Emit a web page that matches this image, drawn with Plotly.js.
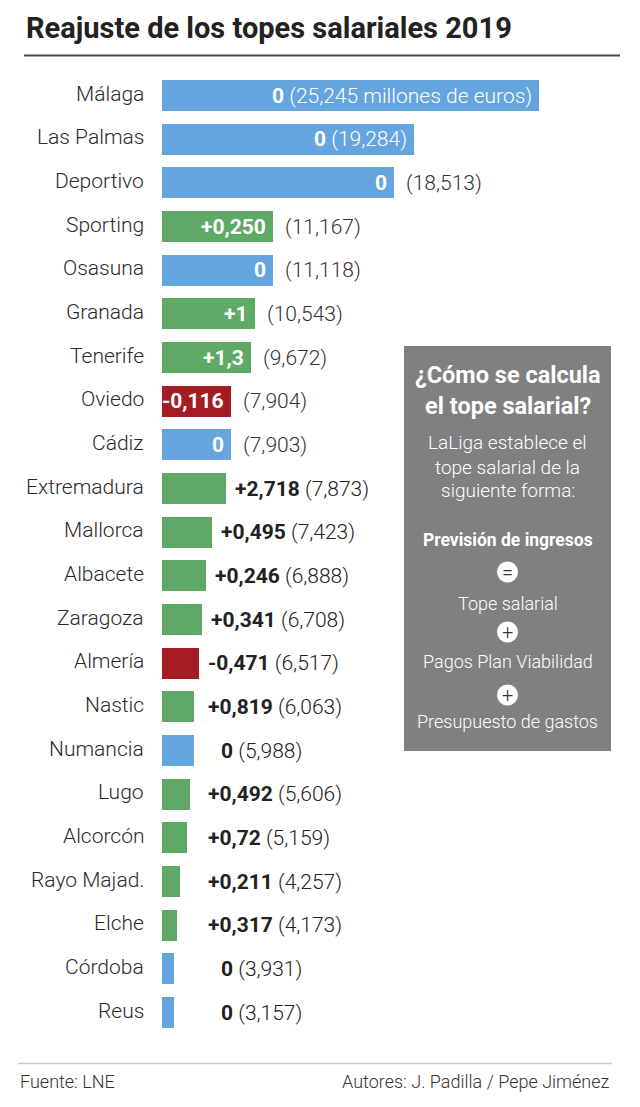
<!DOCTYPE html>
<html>
<head>
<meta charset="utf-8">
<script src="https://cdn.plot.ly/plotly-3.0.1.min.js"></script>
<style>
html,body{margin:0;padding:0;background:#fff;}
#chart{width:640px;height:1107px;}
</style>
</head>
<body>
<div id="chart"></div>
<script>
// ---- Data ----
const teams = ["Málaga","Las Palmas","Deportivo","Sporting","Osasuna","Granada","Tenerife","Oviedo","Cádiz","Extremadura","Mallorca","Albacete","Zaragoza","Almería","Nastic","Numancia","Lugo","Alcorcón","Rayo Majad.","Elche","Córdoba","Reus"];
const adjustLabels = ["0","0","0","+0,250","0","+1","+1,3","-0,116","0","+2,718","+0,495","+0,246","+0,341","-0,471","+0,819","0","+0,492","+0,72","+0,211","+0,317","0","0"];
const totals = [25.245,19.284,18.513,11.167,11.118,10.543,9.672,7.904,7.903,7.873,7.423,6.888,6.708,6.517,6.063,5.988,5.606,5.159,4.257,4.173,3.931,3.157];
// drawn bar length as it appears in the reference (millions of euros, scaled to Málaga's bar)
const barLength = [25.245,16.87,15.53,7.43,7.43,6.23,5.96,4.62,4.62,4.29,3.35,2.95,2.68,2.48,2.14,2.14,1.87,1.67,1.21,1.00,0.80,0.80];

const title = "Reajuste de los topes salariales 2019";
const boxTitle = ["¿Cómo se calcula","el tope salarial?"];
const boxBody = ["LaLiga establece el","tope salarial de la","siguiente forma:"];
const formulaTerms = ["Previsión de ingresos","Tope salarial","Pagos Plan Viabilidad","Presupuesto de gastos"];
const formulaOps = ["=","+","+"];
const source = "Fuente: LNE";
const authors = "Autores: J. Padilla / Pepe Jiménez";

// ---- Layout helpers ----
const W = 640, H = 1107;
const X0 = 162.3;                 // pixel where bars start
const pxPerUnit = 377 / 25.245;   // horizontal scale
const rowTop = 95.5, rowStep = 43.667;
const P = px => px / W;
const Q = py => 1 - py / H;
const fmt = v => v.toFixed(3).replace(".", ",");
const FONT = "Roboto, 'Open Sans', sans-serif";
const BLUE = "#64a5dd", GREEN = "#5fa967", RED = "#a51c24";

const colors = adjustLabels.map(s => s.startsWith("+") ? GREEN : (s.startsWith("-") ? RED : BLUE));
const idx = teams.map((_, i) => i);

const trace = {
  type: "bar", orientation: "h",
  y: idx, x: barLength,
  width: 0.71,
  marker: {color: colors, line: {width: 0}},
  hoverinfo: "skip"
};

const ann = [];
// title
ann.push({xref:"paper", yref:"paper", x:P(24), y:Q(28), xanchor:"left", yanchor:"middle",
  text:"<b>"+title+"</b>", showarrow:false, font:{family:FONT, size:29, color:"#222"}});

teams.forEach((t, i) => {
  ann.push({xref:"paper", yref:"y", x:P(146), y:i, yshift:2, xanchor:"right", yanchor:"middle",
    text:t, showarrow:false, font:{family:FONT, size:21, color:"#2a2a2a", weight:300}});
  const L = barLength[i];
  const adj = "<b>"+adjustLabels[i]+"</b>";
  const tot = "("+fmt(totals[i])+(i === 0 ? " millones de euros" : "")+")";
  if (L > 16) {
    ann.push({xref:"x", yref:"y", x:L, xshift:-5, y:i, xanchor:"right", yanchor:"middle",
      text:adj+" "+tot, showarrow:false, font:{family:FONT, size:21, color:"#fff", weight:300}});
  } else if (L > 4.5) {
    ann.push({xref:"x", yref:"y", x:L, xshift:-5, y:i, xanchor:"right", yanchor:"middle",
      text:adj, showarrow:false, font:{family:FONT, size:21, color:"#fff", weight:300}});
    ann.push({xref:"x", yref:"y", x:L, xshift:10, y:i, xanchor:"left", yanchor:"middle",
      text:tot, showarrow:false, font:{family:FONT, size:21, color:"#333", weight:300}});
  } else {
    const endPx = X0 + L * pxPerUnit;
    let startPx = Math.max(endPx + 7, 206);
    if (adjustLabels[i] === "0") startPx = 219;
    ann.push({xref:"paper", yref:"y", x:P(startPx), y:i, xanchor:"left", yanchor:"middle",
      text:adj+" "+tot, showarrow:false, font:{family:FONT, size:21, color:"#222", weight:300}});
  }
});

// info box
const bx = 507.5;
boxTitle.forEach((s, k) => ann.push({xref:"paper", yref:"paper", x:P(bx), y:Q(375 + k*31), xanchor:"center", yanchor:"middle",
  text:"<b>"+s+"</b>", showarrow:false, font:{family:FONT, size:23.5, color:"#fff"}}));
boxBody.forEach((s, k) => ann.push({xref:"paper", yref:"paper", x:P(bx), y:Q(443 + k*24), xanchor:"center", yanchor:"middle",
  text:s, showarrow:false, font:{family:FONT, size:19, color:"#fff", weight:300}}));
const termY = [540, 603, 661, 721];
const opY = [572, 632, 695];
formulaTerms.forEach((s, k) => ann.push({xref:"paper", yref:"paper", x:P(bx), y:Q(termY[k]), xanchor:"center", yanchor:"middle",
  text: k === 0 ? "<b>"+s+"</b>" : s, showarrow:false,
  font:{family:FONT, size: k === 0 ? 17.5 : 18, color:"#fff", weight: k === 0 ? 400 : 300}}));
formulaOps.forEach((s, k) => ann.push({xref:"paper", yref:"paper", x:P(bx), y:Q(opY[k]), xanchor:"center", yanchor:"middle",
  text:s, showarrow:false, font:{family:FONT, size:20, color:"#333", weight:300}}));

// footer
ann.push({xref:"paper", yref:"paper", x:P(18), y:Q(1081), xanchor:"left", yanchor:"middle",
  text:source, showarrow:false, font:{family:FONT, size:18, color:"#333", weight:300}});
ann.push({xref:"paper", yref:"paper", x:P(612), y:Q(1081), xanchor:"right", yanchor:"middle",
  text:authors, showarrow:false, font:{family:FONT, size:18, color:"#333", weight:300}});

const shapes = [
  {type:"line", xref:"paper", yref:"paper", x0:P(24), x1:P(620), y0:Q(55.5), y1:Q(55.5), line:{color:"#4a4a4a", width:2}},
  {type:"line", xref:"paper", yref:"paper", x0:P(18), x1:P(612), y0:Q(1063.5), y1:Q(1063.5), line:{color:"#cacaca", width:1.5}},
  {type:"rect", xref:"paper", yref:"paper", x0:P(404), x1:P(611), y0:Q(346), y1:Q(751), fillcolor:"#808080", line:{width:0}, layer:"below"}
];
opY.forEach(y => shapes.push({type:"circle", xref:"paper", yref:"paper", x0:P(bx-10.5), x1:P(bx+10.5), y0:Q(y-10.5), y1:Q(y+10.5), fillcolor:"#fff", line:{width:0}}));

const layout = {
  width: W, height: H,
  margin: {l:0, r:0, t:0, b:0},
  paper_bgcolor: "#fff", plot_bgcolor: "rgba(0,0,0,0)",
  showlegend: false,
  xaxis: {range:[-X0/pxPerUnit, (W - X0)/pxPerUnit], visible:false, fixedrange:true},
  yaxis: {range:[(H - rowTop)/rowStep, -rowTop/rowStep], visible:false, fixedrange:true},
  annotations: ann,
  shapes: shapes,
  bargap: 0
};

Plotly.newPlot("chart", [trace], layout, {displayModeBar:false, staticPlot:true});
</script>
</body>
</html>
